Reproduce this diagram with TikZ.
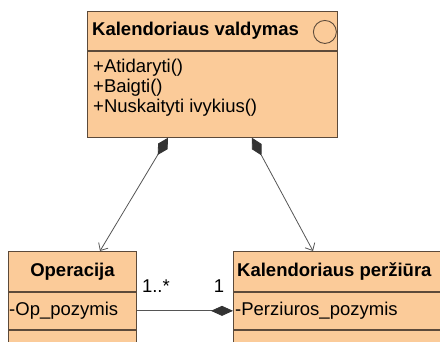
\documentclass[tikz,border=0pt]{standalone}
\usepackage{fontspec}
\setmainfont{Liberation Sans}
\usetikzlibrary{arrows.meta}

\definecolor{boxfill}{RGB}{251,203,153}
\definecolor{boxline}{RGB}{92,74,58}
\definecolor{linkline}{RGB}{85,85,85}

\newcommand\umlfont{\fontsize{18.5}{20}\selectfont}

\tikzset{
  classbox/.style={draw=boxline, fill=boxfill, line width=0.9pt, inner sep=0pt, anchor=north west},
  classname/.style={font=\umlfont\bfseries, inner sep=0pt},
  member/.style={anchor=west, inner sep=0pt},
  whole/.style={draw=linkline, line width=0.8pt,
    {Diamond[length=20pt,width=11pt,color=black!80,fill=black!80]}-{Straight Barb[length=6pt,width=11pt]}},
  part/.style={draw=linkline, line width=0.8pt,
    -{Diamond[length=22pt,width=10pt,color=black!80,fill=black!80]}},
}

\begin{document}
\begin{tikzpicture}[x=1pt,y=1pt,font=\umlfont]
% frame
\useasboundingbox (0,0) rectangle (440,342);
\clip (0,0) rectangle (440,342);

% Kalendoriaus valdymas
\node[classbox, minimum width=250pt, minimum height=39pt] (kv) at (87,331) {};
\node[classname, anchor=west] (kvname) at ([xshift=5pt]kv.west) {Kalendoriaus valdymas};
\node[circle, draw=boxline, line width=0.9pt, minimum size=23pt, inner sep=0pt] (kvicon) at ([xshift=-13pt,yshift=-1pt]kv.east) {};
\node[classbox, minimum width=250pt, minimum height=86pt] (kvops) at (kv.south west) {};
\foreach \op [count=\k] in {{+Atidaryti()}, {+Baigti()}, {+Nuskaityti ivykius()}} {
	\node[member] (kvop\k) at (93, {294-20*\k}) {\op};
}

% Operacija
\node[classbox, minimum width=128pt, minimum height=40pt] (op) at (8,91) {};
\node[classname] (opname) at (op.center) {Operacija};
\node[classbox, minimum width=128pt, minimum height=37pt] (opattr) at (op.south west) {};
\node[member] (opattrtxt) at ([xshift=1pt]opattr.west) {-Op\_pozymis};
\node[classbox, minimum width=128pt, minimum height=44pt] (opops) at (opattr.south west) {};

% Kalendoriaus perziura
\node[classbox, minimum width=260pt, minimum height=40pt] (kp) at (233,91) {};
\node[classname, anchor=west] (kpname) at ([xshift=4pt]kp.west) {Kalendoriaus peržiūra};
\node[classbox, minimum width=260pt, minimum height=37pt] (kpattr) at (kp.south west) {};
\node[member] (kpattrtxt) at ([xshift=2pt]kpattr.west) {-Perziuros\_pozymis};
\node[classbox, minimum width=260pt, minimum height=44pt] (kpops) at (kpattr.south west) {};

% composition links
\coordinate (kvl) at ([xshift=81pt]kvops.south west);
\coordinate (kvr) at ([xshift=165pt]kvops.south west);
\coordinate (opin) at ([xshift=92pt]op.north west);
\coordinate (kpin) at ([xshift=80pt]kp.north west);
\draw[whole] (kvl) -- (opin);
\draw[whole] (kvr) -- (kpin);

\draw[part] (opattr.east) -- (kpattr.west);
\node (multop) at ([xshift=19pt,yshift=25pt]opattr.east) {1..*};
\node (multkp) at ([xshift=-14pt,yshift=25pt]kpattr.west) {1};

\end{tikzpicture}
\end{document}
